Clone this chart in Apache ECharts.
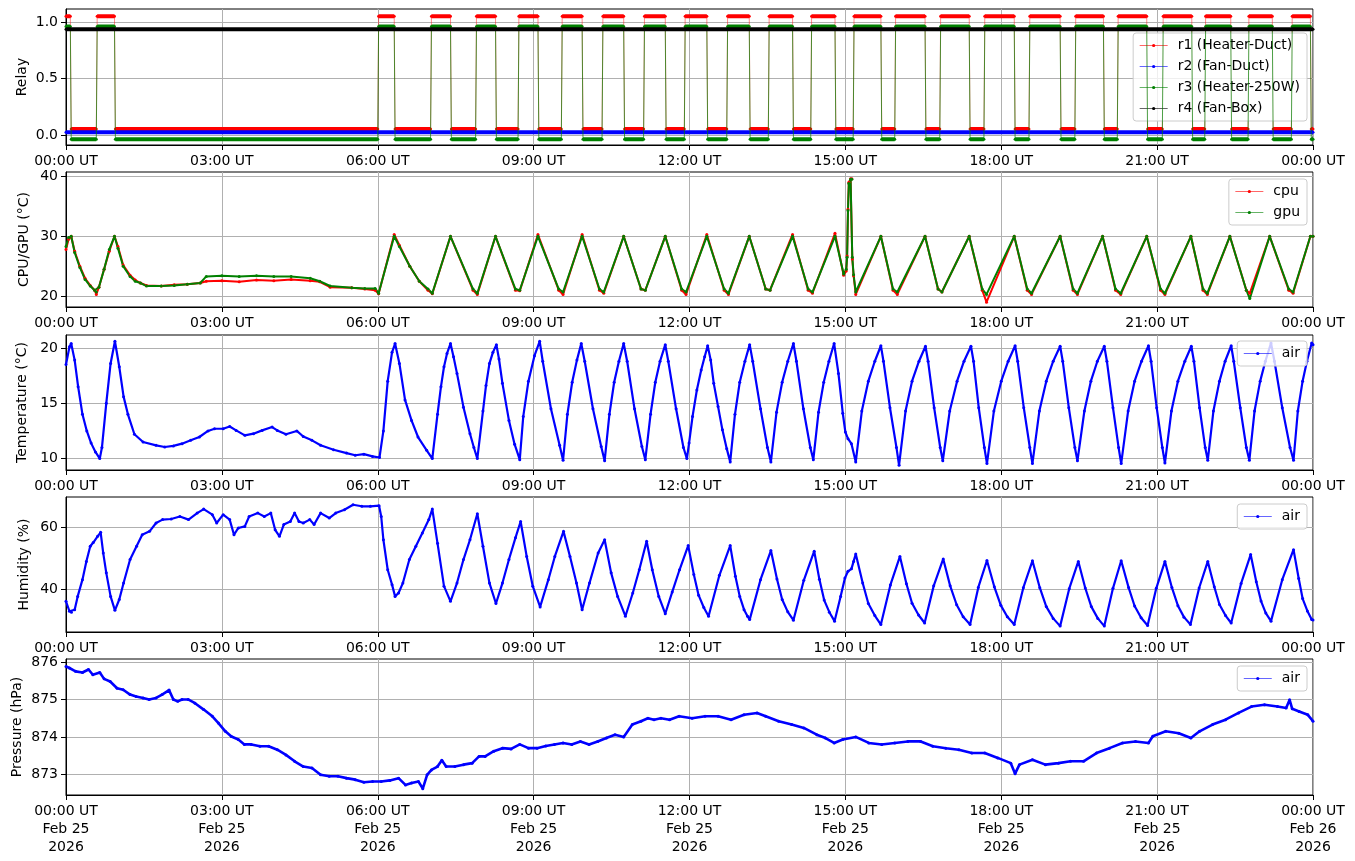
<!DOCTYPE html>
<html>
<head>
<meta charset="utf-8">
<script src="https://cdn.jsdelivr.net/npm/echarts@6/dist/echarts.min.js"></script>
<style>
html,body{margin:0;padding:0;background:#ffffff;}
#chart{width:1355px;height:861px;}
</style>
</head>
<body>
<div id="chart"></div>
<script>
// ---------- DATA (x = minutes after 2026-02-25 00:00 UT) ----------
const xTickHours = ['00:00 UT','03:00 UT','06:00 UT','09:00 UT','12:00 UT','15:00 UT','18:00 UT','21:00 UT','00:00 UT'];
const xTickDates = ['Feb 25','Feb 25','Feb 25','Feb 25','Feb 25','Feb 25','Feb 25','Feb 25','Feb 26'];
const xTickYear = '2026';

const relayNames = ['r1 (Heater-Duct)','r2 (Fan-Duct)','r3 (Heater-250W)','r4 (Fan-Box)'];
// relay ON windows [start, end] in minutes
const r1On = [[0,5],[36,56],[361,379],[422,444],[474,496],[523,545],[573,596],[620,644],[668,692],[715,740],[764,789],[812,839],[861,888],[910,941],[958,992],[1010,1043],[1061,1095],[1113,1148],[1166,1198],[1215,1248],[1267,1300],[1316,1345],[1366,1393],[1416,1437]];
const r2On = [];
const r3On = [[0,5],[36,56],[361,379],[422,444],[474,496],[523,545],[573,596],[620,644],[668,692],[715,740],[764,789],[812,839],[861,888],[910,941],[958,992],[1010,1043],[1061,1095],[1113,1148],[1166,1198],[1215,1248],[1267,1300],[1316,1345],[1366,1393],[1416,1437]];
const r4On = [[0,1440]];

const cpuTemp = [
[0,27.8],[3,29.5],[6,30.0],[10,27.5],[16,25.0],[22,23.0],[28,21.8],[33,21.0],[35,20.3],[38,21.5],[44,24.5],[50,27.5],[56,30.0],[60,28.3],[66,25.2],[74,23.5],[80,22.7],[86,22.2],[93,21.8],[110,21.7],[125,21.9],[140,22.0],[155,22.2],[162,22.5],[180,22.6],[200,22.4],[220,22.7],[240,22.6],[260,22.8],[282,22.6],[293,22.4],[305,21.5],[330,21.4],[345,21.2],[357,21.0],[361,20.4],[379,30.3],[385,28.5],[397,25.0],[408,22.5],
[418,21.0],[423,20.4],[444,30.0],
[470,21.0],[475,20.3],[496,30.0],
[519,21.0],[524,20.9],[545,30.3],
[569,21.0],[574,20.3],[596,30.3],
[616,21.0],[621,20.5],[644,30.0],
[664,21.2],[669,21.0],[692,30.0],
[711,21.0],[716,20.3],[740,30.3],
[760,21.0],[765,20.3],[789,30.0],
[808,21.2],[813,21.0],[839,30.3],
[857,21.0],[862,20.5],[888,30.5],
[898,23.5],[901,24.2],[902,26.7],[903,34.5],[904,39.0],[906,39.6],[907.5,39.6],[908,26.2],[909.5,23.4],[912,20.3],[941,30.0],
[955,21.0],[960,20.3],[992,30.0],
[1007,21.2],[1011.5,20.7],[1043,30.0],
[1058,21.0],[1063,19.0],[1095,30.0],
[1110,21.0],[1115,20.3],[1148,30.0],
[1163,21.0],[1168,20.3],[1197,30.0],
[1212,21.0],[1218,20.3],[1248,30.0],
[1264,21.0],[1269,20.3],[1299,30.0],
[1313,21.0],[1318,20.3],[1344,30.0],
[1363,21.0],[1367,20.5],[1390,30.0],
[1412,21.0],[1417,20.5],[1437,30.0],[1440,30.0]
];
const gpuTemp = [
[0,28.3],[3,29.8],[6,30.0],[10,27.3],[16,24.8],[22,22.8],[28,21.7],[33,21.0],[35,20.7],[38,21.5],[44,24.5],[50,27.8],[56,30.0],[60,28.0],[66,25.0],[74,23.3],[80,22.5],[86,22.2],[93,21.7],[110,21.7],[125,21.8],[140,22.0],[155,22.2],[162,23.3],[180,23.4],[200,23.3],[220,23.4],[240,23.3],[260,23.3],[282,23.0],[293,22.5],[305,21.7],[330,21.4],[345,21.3],[357,21.3],[361,20.5],[379,30.0],[385,28.3],[397,25.0],[408,22.5],
[418,21.2],[423,20.5],[444,30.0],
[470,21.2],[475,20.5],[496,30.0],
[519,21.2],[524,21.0],[545,30.0],
[569,21.2],[574,20.7],[596,30.0],
[616,21.2],[621,20.7],[644,30.0],
[664,21.2],[669,21.0],[692,30.0],
[711,21.2],[716,20.7],[740,30.0],
[760,21.2],[765,20.5],[789,30.0],
[808,21.2],[813,21.0],[839,30.0],
[857,21.2],[862,20.7],[888,30.0],
[898,23.7],[901,24.5],[902,26.5],[903,34.3],[904,38.8],[906,39.5],[907.5,39.5],[908,26.5],[909.5,23.6],[912,20.7],[941,30.0],
[955,21.2],[960,20.7],[992,30.0],
[1007,21.2],[1011.5,20.7],[1043,30.0],
[1058,21.2],[1063,20.3],[1095,30.0],
[1110,21.2],[1115,20.5],[1148,30.0],
[1163,21.2],[1168,20.5],[1197,30.0],
[1212,21.2],[1218,20.5],[1248,30.0],
[1264,21.2],[1269,20.5],[1299,30.0],
[1313,21.2],[1318,20.5],[1344,30.0],
[1363,21.0],[1367,19.6],[1390,30.0],
[1412,21.2],[1417,20.7],[1437,30.0],[1440,30.0]
];

const tempAir = [
[0,18.5],[4,20.1],[6,20.4],[10,18.9],[14,16.5],[19,14.0],[24,12.5],[29,11.4],[34,10.6],[39,10.0],[41.5,11.0],[46.5,15.0],[51.5,18.6],[56.5,20.6],[61.5,18.3],[66.5,15.6],[71.5,14.0],[79,12.2],[89,11.5],[104,11.2],[114,11.05],[124,11.15],[134,11.35],[144,11.65],[154,11.95],[164,12.5],[171.5,12.7],[181.5,12.7],[189,12.9],[196.5,12.55],[206.5,12.1],[216.5,12.25],[226.5,12.55],[238,12.85],[244,12.55],[254,12.2],[266.5,12.5],[274,12.0],[284,11.65],[294,11.2],[309,10.8],[324,10.5],[334,10.3],[344,10.4],[354,10.2],[362,10.1],
[366.5,12.5],[371.5,17.0],[376.5,19.6],[380,20.4],
[385,18.6],[391.5,15.3],[399,13.45],[406.5,11.95],[416.5,10.75],[423,10.0],
[429,14.0],[433,16.5],[436.5,18.3],[440,19.5],[444,20.4],
[447.5,19.2],[451.5,17.7],[459,14.65],[466.5,12.25],[471,11.0],[475,10.0],
[481.5,14.3],[485,16.6],[489,18.6],[493,19.6],[497,20.3],
[500,19.0],[504,16.8],[511.5,13.45],[518,11.3],[524,9.9],
[528,13.8],[534,17.0],[541,19.3],[547,20.6],
[550.5,18.8],[560,14.5],[570,11.2],[574,9.85],
[579,14.0],[584.5,16.9],[590,18.9],[595,20.4],
[599,18.8],[608.5,14.5],[618,11.1],[622,9.8],
[627.5,14.0],[633,16.9],[638.5,18.8],[644,20.4],
[648,18.8],[656.5,14.5],[665,11.1],[669,9.9],
[675,14.0],[680.5,16.9],[686,18.8],[692,20.3],
[695.5,18.8],[704.5,14.5],[713,11.0],[717,10.0],
[719.5,11.4],[723.5,13.8],[728.5,16.2],[733.5,18.0],[737.5,19.2],[741,20.2],
[744.5,18.9],[748,16.8],[753,14.7],[758,12.6],[763,10.9],[767,9.7],
[772.5,14.0],[778,16.9],[784,18.8],[789.5,20.3],
[793,18.8],[802,14.5],[810,11.0],[814,9.7],
[820.5,14.2],[827,16.9],[833.5,18.8],[840,20.4],
[843.5,18.8],[851.5,14.5],[859.5,11.0],[863,9.9],
[869,14.2],[875,16.9],[881,18.8],[887,20.4],
[892,17.7],[897,14.1],[900,12.4],[903,11.8],[907,11.35],[912,9.7],
[919,14.3],[926.5,17.0],[934,18.8],[941,20.2],
[944,18.8],[951.5,14.6],[959,11.0],[962,9.4],
[969.5,14.3],[977,17.0],[985,18.8],[992.5,20.15],
[995.5,18.8],[1002.5,14.6],[1009.5,11.0],[1012.5,9.8],
[1020.5,14.3],[1029,17.0],[1037,18.8],[1045,20.15],
[1048,18.8],[1054,14.6],[1060.5,11.0],[1063.5,9.55],
[1071.5,14.3],[1080,17.0],[1088,18.8],[1096,20.2],
[1099,18.8],[1106,14.6],[1113,11.0],[1116,9.55],
[1124,14.3],[1132,17.0],[1140,18.8],[1148,20.15],
[1151,18.8],[1158,14.6],[1165,11.0],[1168,9.8],
[1176,14.3],[1183.5,17.0],[1191,18.8],[1199,20.15],
[1202,18.8],[1209,14.6],[1215.5,11.0],[1218.5,9.55],
[1226.5,14.3],[1234,17.0],[1242,18.8],[1250,20.2],
[1253,18.8],[1259.5,14.6],[1266,11.0],[1269,9.6],
[1276.5,14.3],[1284,17.0],[1292,18.8],[1299.5,20.15],
[1302.5,18.8],[1309,14.6],[1315.5,11.0],[1318.5,9.85],
[1325,14.3],[1332,17.0],[1338.5,18.8],[1345.5,20.2],
[1348.5,18.8],[1356,14.6],[1363,11.0],[1366.5,9.85],
[1372.5,14.3],[1379,17.0],[1385,18.8],[1391.5,20.45],
[1395.5,18.8],[1404.5,14.6],[1413.5,11.0],[1417.5,9.85],
[1422.5,14.3],[1428,17.0],[1433,18.8],[1438.5,20.45],[1440,20.3]
];

const humAir = [
[0,36.0],[4,32.8],[6.3,32.5],[10,33.3],[13.5,37.6],[19,43.0],[23.5,48.9],[28,53.8],[31.5,55.0],[36.5,57.0],[40,58.3],[43,51.6],[46.5,45.2],[51.5,37.6],[56.5,33.1],[61.5,36.6],[66.5,41.9],[74,49.5],[81.5,53.8],[88,57.5],[96.5,58.6],[104,61.3],[111.5,62.4],[121.5,62.6],[131.5,63.4],[141.5,62.4],[151.5,64.5],[159,65.8],[169,64.0],[174,61.3],[181.5,64.0],[189,62.4],[194,57.5],[199,59.7],[206.5,60.2],[211.5,63.4],[221.5,64.5],[229,63.4],[236.5,64.5],[241.5,59.1],[246.5,57.0],[251.5,60.8],[259,61.8],[264,64.5],[269,61.8],[274,61.3],[281.5,62.4],[286.5,60.8],[294,64.5],[304,62.9],[311.5,64.5],[321.5,65.6],[331.5,67.2],[341.5,66.7],[351.5,66.7],[361.5,66.9],
[364,63.4],[366.5,55.9],[371.5,46.2],[376.5,41.4],[380,37.6],
[384,38.7],[389,41.9],[396.5,49.5],[404,53.8],[411.5,58.1],[419,62.4],[423,65.8],
[429,54.8],[436.5,40.9],[444,36.0],
[451.5,41.9],[459,49.5],[466.5,55.9],[475,64.3],
[481.5,53.8],[489,41.9],[496.5,35.3],
[504,41.9],[511.5,49.5],[519,56.5],[525,61.8],
[532,50.5],[539,40.9],[547.5,34.2],
[557,43.0],[564.5,50.5],[574.5,58.6],
[582,50.5],[589.5,41.9],[596,33.3],
[604.5,41.9],[614.5,51.6],[622,55.9],
[629.5,45.2],[637,37.6],[646,31.2],
[654.5,38.7],[662,46.2],[670.5,55.4],
[677,46.2],[684.5,37.6],[692,32.0],
[700,39.0],[708.5,46.2],[718.5,54.0],
[725,44.7],[730.5,38.0],[736.5,34.0],[742,31.2],
[754.5,44.4],[767,54.0],
[773,44.1],[778,37.6],[783,33.3],[787,31.2],[789.5,30.1],
[802,43.0],[814,52.4],
[821,43.2],[827,36.6],[833.5,32.6],[840,29.9],
[852,42.8],[864,52.2],
[870,43.1],[875.5,36.4],[881.5,32.5],[887.5,29.6],
[894.5,37.6],[899.5,43.5],[903,45.7],[907,46.5],[909.5,48.9],[912,51.3],
[920,41.9],[926.5,35.3],[934,31.4],[941,28.5],
[952,41.3],[963,50.5],
[970.5,41.7],[977,35.4],[984.5,31.6],[991.5,29.0],
[1002,41.0],[1013,49.7],
[1021,41.0],[1028.5,34.9],[1036,31.0],[1044,28.5],
[1053.5,40.5],[1063.5,49.2],
[1072,40.7],[1079.5,34.7],[1087,31.0],[1095,28.5],
[1105.5,40.4],[1116,49.1],
[1124.5,40.4],[1132,34.3],[1140,30.5],[1148,28.0],
[1158.5,40.1],[1169,48.9],
[1177,40.3],[1184,34.3],[1191.5,30.5],[1199,28.0],
[1209,40.2],[1218.5,49.1],
[1227,40.5],[1234,34.5],[1241.5,30.7],[1249,28.2],
[1259,40.2],[1269,48.9],
[1277,40.5],[1284,34.6],[1291,30.9],[1298.5,28.5],
[1308.5,40.3],[1318.5,48.9],
[1326,40.7],[1332,35.0],[1339,31.4],[1345.5,29.0],
[1357,41.8],[1368,51.1],
[1374.5,42.3],[1380,36.1],[1385.5,32.2],[1391.5,29.6],
[1404.5,43.0],[1417.5,52.7],
[1423.5,43.4],[1428,36.9],[1433.5,32.9],[1438.5,30.1],[1440,30.0]
];

const pressAir = [
[0,875.88],[4,875.84],[11,875.75],[19,875.72],[26,875.8],[31,875.66],[39,875.72],[44,875.55],[51,875.48],[59,875.3],[66,875.26],[74,875.13],[81,875.08],[89,875.04],[96,875.0],[104,875.04],[111,875.13],[119,875.25],[124,875.0],[129,874.95],[134,875.0],[141,875.0],[149,874.9],[159,874.73],[169,874.55],[176,874.37],[184,874.15],[191,874.01],[199,873.93],[206,873.8],[214,873.8],[224,873.75],[234,873.75],[244,873.66],[254,873.52],[264,873.35],[274,873.21],[284,873.17],[294,872.99],[304,872.95],[314,872.95],[324,872.9],[334,872.86],[344,872.79],[354,872.81],[364,872.81],[374,872.84],[384,872.9],[392,872.72],[399,872.77],[407,872.81],[412,872.62],[417,872.99],[422,873.12],[429,873.21],[434,873.38],[439,873.21],[449,873.21],[459,873.26],[469,873.3],[477,873.48],[484,873.48],[494,873.62],[504,873.7],[514,873.68],[524,873.8],[534,873.7],[544,873.7],[554,873.76],[564,873.8],[574,873.84],[584,873.8],[594,873.88],[604,873.8],[614,873.88],[624,873.97],[634,874.06],[644,874.0],[654,874.33],[664,874.42],[672,874.5],[679,874.46],[687,874.5],[697,874.46],[708,874.55],[723,874.5],[738,874.55],[753,874.55],[768,874.46],[783,874.59],[798,874.64],[808,874.55],[823,874.42],[838,874.33],[852,874.24],[867,874.06],[877,873.97],[887,873.84],[897,873.93],[912,874.0],[927,873.84],[942,873.8],[957,873.84],[972,873.88],[987,873.88],[1001,873.75],[1016,873.7],[1031,873.66],[1046,873.57],[1061,873.57],[1076,873.44],[1091,873.3],[1096,873.02],[1101,873.26],[1116,873.39],[1131,873.26],[1146,873.3],[1160,873.35],[1175,873.35],[1190,873.57],[1205,873.7],[1220,873.84],[1235,873.88],[1250,873.84],[1255,874.02],[1270,874.15],[1285,874.1],[1299,873.97],[1309,874.15],[1324,874.33],[1339,874.46],[1354,874.64],[1369,874.81],[1384,874.86],[1399,874.81],[1409,874.77],[1413,874.99],[1416,874.75],[1424,874.68],[1434,874.59],[1440,874.42]
];

// ---------- STYLE / LAYOUT ----------
const FONT = 'DejaVu Sans';
const FS = 14;
const relayColors = ['#ff0000','#0000ff','#008000','#000000'];
const relayOffsets = [0.053, 0.024, -0.037, -0.062];
const relayThinOpacity = [0.45, 0.6, 0.7, 0.6];
const panels = [
  {top:9,   height:136, min:-0.089, max:1.118, ticks:[0,0.5,1.0], step:0.5, dec:1, name:'Relay', gap:37},
  {top:172, height:135, min:18.2,   max:40.73, ticks:[20,30,40], step:10, dec:0, name:'CPU/GPU (°C)', gap:35},
  {top:335, height:135, min:8.97,   max:21.17, ticks:[10,15,20], step:5, dec:0, name:'Temperature (°C)', gap:37},
  {top:497, height:135, min:26.1,   max:69.7,  ticks:[40,60], step:20, dec:0, name:'Humidity (%)', gap:35},
  {top:659, height:136, min:872.45, max:876.08, ticks:[873,874,875,876], step:1, dec:0, name:'Pressure (hPa)', gap:42}
];

function relaySegments(windows){
  const segs = [];
  let t = 0;
  windows.forEach(([s,e]) => {
    if (s > t) segs.push([t, s - 1, 0]);
    segs.push([s, e, 1]);
    t = e + 1;
  });
  if (t <= 1440) segs.push([t, 1440, 0]);
  return segs;
}

const grid = panels.map(p => ({left:66, width:1247, top:p.top, height:p.height, show:true, borderColor:'#000', borderWidth:1, containLabel:false, outerBoundsMode:'none'}));

const xAxis = panels.map((p, i) => ({
  type:'value', gridIndex:i, min:0, max:1440, interval:180,
  axisLine:{show:true, onZero:false, lineStyle:{color:'#000', width:1}},
  axisTick:{show:true, length:5, lineStyle:{color:'#000', width:1}},
  splitLine:{show:true, lineStyle:{color:'#b0b0b0', width:1}},
  axisLabel:{
    show:true, color:'#000', fontSize:FS, fontFamily:FONT, margin:7, lineHeight:18,
    formatter: v => {
      const k = Math.round(v / 180);
      return i === panels.length - 1 ? xTickHours[k] + '\n' + xTickDates[k] + '\n' + xTickYear : xTickHours[k];
    }
  }
}));

const yAxis = panels.map((p, i) => ({
  type:'value', gridIndex:i, min:p.min, max:p.max, minInterval:p.step, maxInterval:p.step,
  name:p.name, nameLocation:'middle', nameRotate:90, nameGap:p.gap, nameMoveOverlap:false,
  nameTextStyle:{color:'#000', fontSize:FS, fontFamily:FONT},
  axisLine:{show:true, onZero:false, lineStyle:{color:'#000', width:1}},
  axisTick:{show:true, length:5, customValues:p.ticks, lineStyle:{color:'#000', width:1}},
  splitLine:{show:true, lineStyle:{color:'#b0b0b0', width:1}},
  axisLabel:{show:true, customValues:p.ticks, color:'#000', fontSize:FS, fontFamily:FONT, margin:8,
    formatter: v => Number(v).toFixed(p.dec)}
}));

const series = [];
// relay panel
[r1On, r2On, r3On, r4On].forEach((win, k) => {
  const segs = relaySegments(win);
  const off = relayOffsets[k];
  const thin = [];
  const thick = [];
  segs.forEach(([a, b, st]) => {
    thin.push([a, st + off], [b, st + off]);
    thick.push([a, st + off], [b, st + off], [b + 0.5, '-']);
  });
  series.push({
    type:'line', name:relayNames[k], xAxisIndex:0, yAxisIndex:0, data:thin,
    symbol:'circle', symbolSize:3, showSymbol:true,
    itemStyle:{color:relayColors[k]},
    lineStyle:{color:relayColors[k], width:1, opacity:relayThinOpacity[k]},
    z:2 + k, silent:true
  });
  series.push({
    type:'line', name:relayNames[k] + ' ', xAxisIndex:0, yAxisIndex:0, data:thick,
    symbol:'none', connectNulls:false,
    lineStyle:{color:relayColors[k], width:4, cap:'butt'},
    z:2 + k, silent:true
  });
});
function sensorSeries(name, data, idx, color, width){
  return {
    type:'line', name, xAxisIndex:idx, yAxisIndex:idx, data,
    symbol:'circle', symbolSize:3, showSymbol:true,
    itemStyle:{color}, lineStyle:{color, width}, silent:true, z:3
  };
}
series.push(sensorSeries('cpu', cpuTemp, 1, '#ff0000', 2));
series.push(sensorSeries('gpu', gpuTemp, 1, '#008000', 2));
series.push(sensorSeries('air', tempAir, 2, '#0000ff', 2.2));
series.push(sensorSeries('air', humAir, 3, '#0000ff', 2.2));
series.push(sensorSeries('air', pressAir, 4, '#0000ff', 2.6));

function legendFor(names, top){
  return {
    show:true, orient:'vertical', right:48, top, data:names,
    itemWidth:28, itemHeight:4, itemGap:4, padding:[4,7,4,6],
    backgroundColor:'rgba(255,255,255,0.8)', borderColor:'#cccccc', borderWidth:1, borderRadius:3,
    textStyle:{fontSize:FS, color:'#000', fontFamily:FONT, lineHeight:17, padding:[0,0,0,5]},
    lineStyle:{width:1, opacity:0.6}, selectedMode:false
  };
}

const option = {
  animation:false,
  backgroundColor:'#ffffff',
  textStyle:{fontFamily:FONT},
  grid, xAxis, yAxis, series,
  legend:[
    legendFor(relayNames, 33),
    legendFor(['cpu','gpu'], 179),
    legendFor(['air'], 341),
    legendFor(['air'], 504),
    legendFor(['air'], 666)
  ]
};
const chart = echarts.init(document.getElementById('chart'), null, {renderer:'canvas'});
chart.setOption(option);
</script>
</body>
</html>
